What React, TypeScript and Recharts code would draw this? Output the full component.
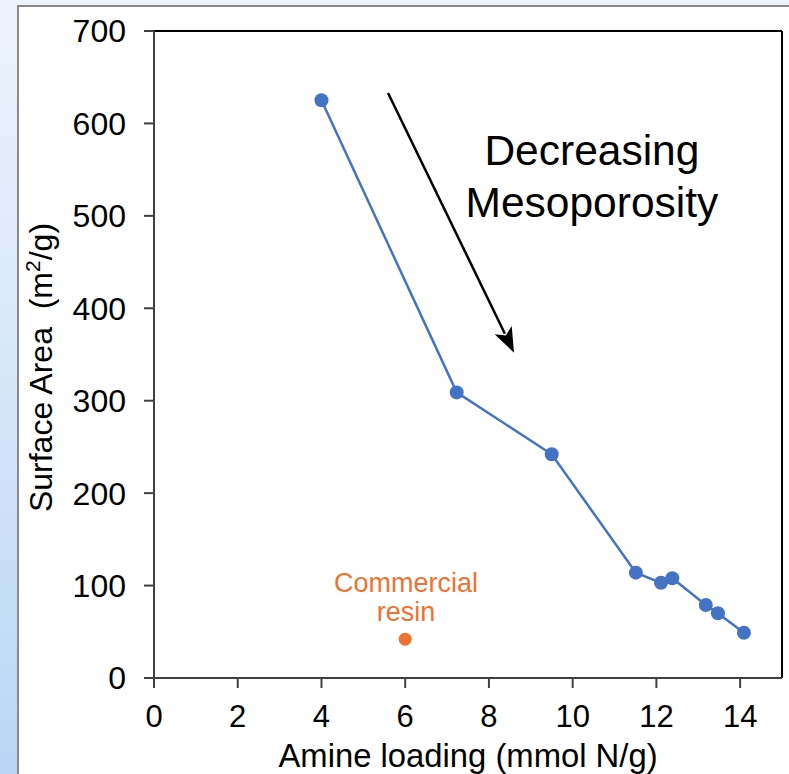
import React from 'react';
import { ScatterChart, Scatter, XAxis, YAxis, ReferenceLine, ReferenceDot, Label } from 'recharts';

const amineLoading = [4.0, 7.23, 9.5, 11.51, 12.11, 12.38, 13.18, 13.47, 14.09];
const surfaceArea = [625, 309, 242, 114, 103, 108, 79, 70, 49];
const resinLoading = [6.0];
const resinArea = [42];
const xTicks = [0, 2, 4, 6, 8, 10, 12, 14];
const yTicks = [0, 100, 200, 300, 400, 500, 600, 700];
const arrowStart = { x: 5.59, y: 633 };
const arrowEnd = { x: 8.6, y: 352 };
const annotationLines = ['Decreasing', 'Mesoporosity'];
const resinLines = ['Commercial', 'resin'];

const blueData = amineLoading.map((x, i) => ({ x, y: surfaceArea[i] }));
const orangeData = resinLoading.map((x, i) => ({ x, y: resinArea[i] }));

const FONT = '"Liberation Sans", Arial, Helvetica, sans-serif';
const BLUE = '#4472C4';
const ORANGE = '#EE7232';
const AXIS = '#404040';

const dotShape = (color: string, r: number) => (props: any) => (
  <circle cx={props.cx} cy={props.cy} r={r} fill={color} stroke="none" />
);

const arrowShape = (props: any) => {
  const { x1, y1, x2, y2 } = props;
  const dx = x2 - x1;
  const dy = y2 - y1;
  const len = Math.sqrt(dx * dx + dy * dy);
  const ux = dx / len;
  const uy = dy / len;
  const headLen = 25;
  const halfW = 9.5;
  const bx = x2 - ux * headLen;
  const by = y2 - uy * headLen;
  const px = -uy;
  const py = ux;
  return (
    <g>
      <line x1={x1} y1={y1} x2={bx + ux * 4} y2={by + uy * 4} stroke="#000" strokeWidth={2.5} />
      <polygon
        points={`${x2},${y2} ${bx + px * halfW},${by + py * halfW} ${bx + ux * 6},${by + uy * 6} ${bx - px * halfW},${by - py * halfW}`}
        fill="#000"
      />
    </g>
  );
};

const textBlock = (lines: string[], size: number, color: string, lineGap: number) => (props: any) => (
  <text x={props.cx} y={props.cy} textAnchor="middle" fontFamily={FONT} fontSize={size} fill={color}>
    {lines.map((l, i) => (
      <tspan key={i} x={props.cx} dy={i === 0 ? 0 : lineGap}>
        {l}
      </tspan>
    ))}
  </text>
);

const yLabel = (props: any) => {
  const vb = props.viewBox || {};
  const x0 = vb.x + 52;
  const y0 = vb.y + vb.height / 2 + 13;
  return (
    <text
      x={x0}
      y={y0}
      textAnchor="middle"
      fontFamily={FONT}
      fontSize={32}
      fill="#000"
      transform={`rotate(-90, ${x0}, ${y0})`}
      style={{ whiteSpace: 'pre' }}
    >
      <tspan>{'Surface Area  (m'}</tspan>
      <tspan fontSize={21} dy={-12}>2</tspan>
      <tspan dy={12}>{'/g)'}</tspan>
    </text>
  );
};

export default function App() {
  return (
    <div
      style={{
        position: 'fixed',
        left: 0,
        top: 0,
        width: 789,
        height: 774,
        overflow: 'hidden',
        background: 'linear-gradient(180deg, #edf3fc 0%, #d6e6f9 50%, #b9d6f6 100%)',
      }}
    >
      <div
        style={{
          position: 'absolute',
          left: 17,
          top: 5,
          width: 800,
          height: 800,
          background: '#fff',
          border: '2px solid #8a8a8a',
        }}
      />
      <div style={{ position: 'absolute', left: 0, top: 0 }}>
        <ScatterChart width={789} height={774} margin={{ top: 31, right: 7, bottom: 0, left: 0 }}>
          <XAxis
            type="number"
            dataKey="x"
            domain={[0, 15]}
            ticks={xTicks}
            interval={0}
            allowDataOverflow
            height={96}
            tickSize={10}
            tickMargin={17}
            axisLine={{ stroke: AXIS, strokeWidth: 2 }}
            tickLine={{ stroke: AXIS, strokeWidth: 2 }}
            tick={{ fill: '#000', fontSize: 31, fontFamily: FONT }}
          >
            <Label
              value="Amine loading (mmol N/g)"
              position="insideBottom"
              offset={7}
              fontSize={32.8}
              fontFamily={FONT}
              fill="#000"
            />
          </XAxis>
          <YAxis
            type="number"
            dataKey="y"
            domain={[0, 700]}
            ticks={yTicks}
            interval={0}
            allowDataOverflow
            width={154}
            tickSize={10}
            tickMargin={18}
            axisLine={{ stroke: AXIS, strokeWidth: 2 }}
            tickLine={{ stroke: AXIS, strokeWidth: 2 }}
            tick={{ fill: '#000', fontSize: 32, fontFamily: FONT }}
            label={{ content: yLabel }}
          />
          <ReferenceLine y={700} stroke="#000" strokeWidth={2} />
          <ReferenceLine x={15} stroke="#000" strokeWidth={2} />
          <ReferenceLine segment={[arrowStart, arrowEnd]} shape={arrowShape} ifOverflow="visible" />
          <ReferenceDot
            x={10.46}
            y={555}
            r={0}
            ifOverflow="visible"
            shape={textBlock(annotationLines, 42.5, '#000', 51.7)}
          />
          <ReferenceDot
            x={6.02}
            y={93}
            r={0}
            ifOverflow="visible"
            shape={textBlock(resinLines, 27, ORANGE, 29)}
          />
          <Scatter
            data={blueData}
            fill={BLUE}
            line={{ stroke: BLUE, strokeWidth: 2.5 }}
            lineType="joint"
            shape={dotShape(BLUE, 7)}
            isAnimationActive={false}
          />
          <Scatter data={orangeData} fill={ORANGE} shape={dotShape(ORANGE, 6.5)} isAnimationActive={false} />
        </ScatterChart>
      </div>
    </div>
  );
}
